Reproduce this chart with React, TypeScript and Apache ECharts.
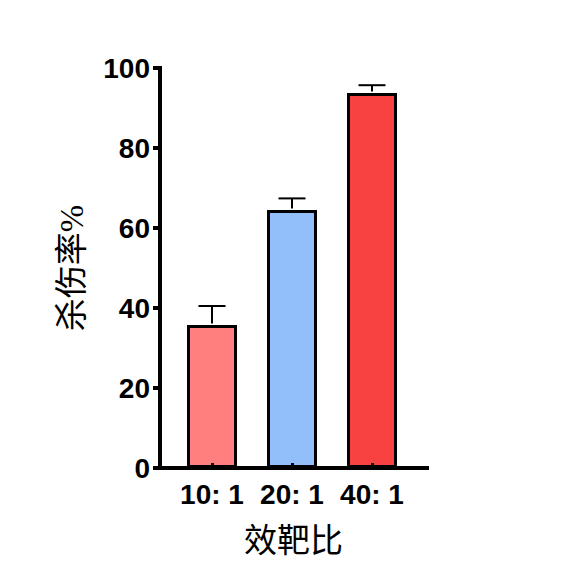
import React, { useEffect, useRef } from "react";
import * as echarts from "echarts";

const categories = ["10: 1", "20: 1", "40: 1"];
const means = [35.75, 64.5, 93.75];
const errors = [4.75, 2.9, 1.95];
const barColors = ["#FF7F7F", "#92BFF9", "#F84242"];
const yTicks = [0, 20, 40, 60, 80, 100];

export default function App() {
  const ref = useRef<HTMLDivElement>(null);
  useEffect(() => {
    document.body.style.margin = "0";
    const chart = echarts.init(ref.current!, null, { renderer: "svg" });
    const catIdx = categories.map((_, i) => i);
    const labelFont = {
      fontFamily: "'Liberation Sans', Arial, sans-serif",
      fontWeight: "bold" as const,
      fontSize: 28,
      color: "#000",
    };
    const nameFont = {
      fontFamily: "'Liberation Serif', 'Noto Sans CJK SC', serif",
      fontSize: 33,
      color: "#000",
    };
    chart.setOption({
      animation: false,
      backgroundColor: "#fff",
      grid: { left: 160, right: 149, top: 68, bottom: 114 },
      xAxis: {
        type: "value",
        min: -0.65,
        max: 2.6875,
        z: 10,
        name: "效靶比",
        nameLocation: "middle",
        nameGap: 56,
        nameTextStyle: nameFont,
        splitLine: { show: false },
        axisLine: { show: true, onZero: false, lineStyle: { color: "#000", width: 4, cap: "square" } },
        axisTick: {
          show: true,
          inside: true,
          length: 5,
          customValues: catIdx,
          lineStyle: { color: "#000", width: 3 },
        },
        axisLabel: {
          ...labelFont,
          margin: 12,
          customValues: catIdx,
          formatter: (v: number) => categories[Math.round(v)] ?? "",
        },
      },
      yAxis: {
        type: "value",
        min: yTicks[0],
        max: yTicks[yTicks.length - 1],
        interval: 20,
        z: 10,
        name: "杀伤率%",
        nameLocation: "middle",
        nameGap: 72,
        nameRotate: 90,
        nameTextStyle: nameFont,
        splitLine: { show: false },
        axisLine: { show: true, onZero: false, lineStyle: { color: "#000", width: 4, cap: "square" } },
        axisTick: { show: true, inside: false, length: 7, lineStyle: { color: "#000", width: 4 } },
        axisLabel: { ...labelFont, margin: 10 },
      },
      series: [
        {
          type: "bar",
          barWidth: 50,
          data: means.map((v, i) => ({
            value: [i, v],
            itemStyle: { color: barColors[i], borderColor: "#000", borderWidth: 3 },
          })),
        },
        {
          type: "custom",
          z: 5,
          data: means.map((v, i) => [i, v, errors[i]]),
          renderItem: (params: any, api: any) => {
            const x = api.value(0);
            const y = api.value(1);
            const e = api.value(2);
            const base = api.coord([x, y]);
            const top = api.coord([x, y + e]);
            const half = 13.5;
            const style = { stroke: "#000", lineWidth: 2 };
            return {
              type: "group",
              children: [
                { type: "line", shape: { x1: base[0], y1: base[1] - 1.5, x2: top[0], y2: top[1] }, style },
                { type: "line", shape: { x1: top[0] - half, y1: top[1], x2: top[0] + half, y2: top[1] }, style },
              ],
            };
          },
        },
      ],
    });
    return () => chart.dispose();
  }, []);
  return <div ref={ref} style={{ width: 576, height: 582 }} />;
}
